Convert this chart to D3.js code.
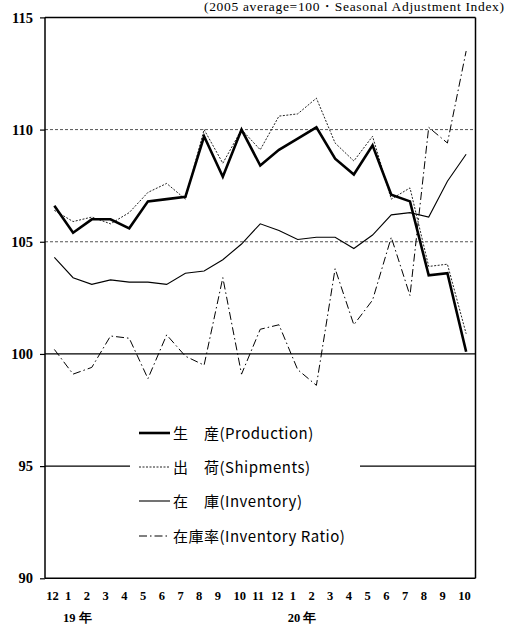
<!DOCTYPE html>
<html><head><meta charset="utf-8">
<script src="https://cdn.jsdelivr.net/npm/d3@7"></script>
<style>body{margin:0;background:#fff}svg{display:block}</style>
</head><body>
<svg id="c" width="507" height="628"></svg>
<script>
const months = ["12","1","2","3","4","5","6","7","8","9","10","11","12","1","2","3","4","5","6","7","8","9","10"];
const yearLabels = [{idx:1, text:"19 年"},{idx:13, text:"20 年"}];
const production = [106.6,105.4,106.0,106.0,105.6,106.8,106.9,107.0,109.7,107.9,110.0,108.4,109.1,109.6,110.1,108.7,108.0,109.3,107.1,106.8,103.5,103.6,100.1];
const shipments  = [106.4,105.9,106.1,105.8,106.3,107.2,107.6,106.9,110.0,108.5,110.0,109.1,110.6,110.7,111.4,109.4,108.6,109.7,106.9,107.4,103.9,104.0,100.9];
const inventory  = [104.3,103.4,103.1,103.3,103.2,103.2,103.1,103.6,103.7,104.2,104.9,105.8,105.5,105.1,105.2,105.2,104.7,105.3,106.2,106.3,106.1,107.7,108.9];
const invRatio   = [100.2,99.1,99.4,100.8,100.7,98.9,100.85,99.9,99.5,103.4,99.1,101.1,101.3,99.3,98.6,103.8,101.3,102.4,105.2,102.6,110.1,109.4,113.5];
const yTicks = [90,95,100,105,110,115];
const seriesNames = ["生　産(Production)","出　荷(Shipments)","在　庫(Inventory)","在庫率(Inventory Ratio)"];
const titleText = "(2005 average=100・Seasonal Adjustment Index)";

const svg = d3.select("#c");
const L = 45, R = 475.5, T = 17.4, B = 578.3;
const x = d3.scaleBand().domain(d3.range(months.length)).range([L, R]);
const y = d3.scaleLinear().domain([90,115]).range([B, T]);
const serif = "'Liberation Serif', 'Times New Roman', serif";

// gridlines
const gridStyle = {110:{c:"#555",d:"3,2",w:1},105:{c:"#555",d:"3,2",w:1},100:{c:"#000",d:null,w:1.2},95:{c:"#000",d:null,w:1.2},115:{c:"#000",d:null,w:1.5},90:{c:"#000",d:null,w:1.5}};
yTicks.forEach(t=>{
  const s = gridStyle[t];
  svg.append("line").attr("x1",L).attr("x2",R).attr("y1",y(t)).attr("y2",y(t))
    .attr("stroke",s.c).attr("stroke-width",s.w).attr("stroke-dasharray",s.d);
});
// frame
svg.append("line").attr("x1",L).attr("x2",L).attr("y1",T).attr("y2",B).attr("stroke","#000").attr("stroke-width",1.5);
svg.append("line").attr("x1",R).attr("x2",R).attr("y1",T).attr("y2",B).attr("stroke","#000").attr("stroke-width",1.5);

// y axis
const yAxis = d3.axisLeft(y).tickValues(yTicks).tickSize(5).tickPadding(7);
const ya = svg.append("g").attr("transform",`translate(${L},0)`).call(yAxis);
ya.attr("font-family",null).attr("font-size",null);
ya.select(".domain").remove();
ya.selectAll("line").attr("stroke","#000").attr("stroke-width",1.2);
ya.selectAll("text").style("font-family",serif).style("font-weight","bold").style("font-size","14.5px").attr("fill","#000");

// x labels
svg.append("g").selectAll("text").data(months).join("text")
  .attr("x",(d,i)=>x(i)+x.bandwidth()/2-8).attr("y",600)
  .style("font-family",serif).style("font-weight","bold").style("font-size","12.5px")
  .text(d=>d);
svg.append("g").selectAll("text").data(yearLabels).join("text")
  .attr("x",d=>x(d.idx)+x.bandwidth()/2-10).attr("y",622)
  .style("font-family",serif).style("font-weight","bold").style("font-size","12.5px")
  .text(d=>d.text);

// title
svg.append("text").attr("x",204).attr("y",11).attr("textLength",300).attr("lengthAdjust","spacing")
  .style("font-family",serif).style("font-size","13.5px").text(titleText);

// lines
const line = d3.line().x((d,i)=>x(i)+x.bandwidth()/2).y(d=>y(d));
const styles = [
  {data:production,w:2.6,d:null,c:"#000"},
  {data:shipments,w:1,d:"2,1.5",c:"#222"},
  {data:inventory,w:1.1,d:null,c:"#000"},
  {data:invRatio,w:1,d:"8,3,1.5,3",c:"#000"}
];
styles.slice().reverse().forEach(s=>{
  svg.append("path").attr("d",line(s.data)).attr("fill","none")
    .attr("stroke",s.c).attr("stroke-width",s.w).attr("stroke-dasharray",s.d).attr("stroke-linejoin","miter");
});

// legend
svg.append("rect").attr("x",130).attr("y",418).attr("width",230).attr("height",132).attr("fill","#fff");
const legY = [433,467,501,536];
styles.forEach((s,i)=>{
  svg.append("line").attr("x1",139).attr("x2",170).attr("y1",legY[i]).attr("y2",legY[i])
    .attr("stroke",s.c).attr("stroke-width",s.w).attr("stroke-dasharray",s.d);
  svg.append("text").attr("x",173).attr("y",legY[i]+5.5).style("font-family","'Noto Sans CJK JP'")
    .style("font-size","15px").style("letter-spacing","0.5px").text(seriesNames[i]);
});
</script>
</body></html>
